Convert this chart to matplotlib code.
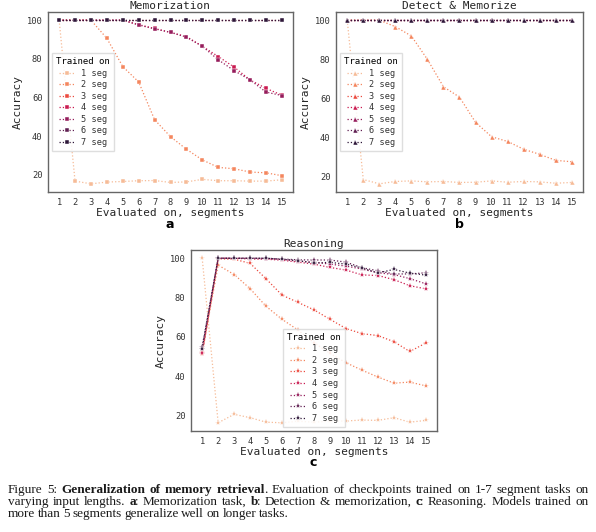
import numpy as np
import matplotlib
matplotlib.use("Agg")
import matplotlib.pyplot as plt
import seaborn as sns

# ---- data ----
segments = list(range(1, 16))
trained_on = ["1 seg", "2 seg", "3 seg", "4 seg", "5 seg", "6 seg", "7 seg"]

memo_1 = [100, 16.7, 15.3, 16.2, 16.5, 16.9, 17.0, 16.0, 16.3, 17.6, 16.9, 16.9, 16.7, 16.7, 17.4]
memo_2 = [100, 100, 100, 90.6, 76.0, 68.0, 48.5, 39.7, 33.2, 27.7, 23.8, 23.1, 21.4, 21.0, 19.5]
memo_3 = [100] * 15
memo_4 = [100, 100, 100, 100, 100, 97.7, 95.7, 93.7, 91.5, 86.5, 81.2, 75.7, 69.1, 64.7, 61.2]
memo_5 = [100, 100, 100, 100, 100, 97.5, 95.5, 93.7, 91.2, 86.5, 79.5, 73.9, 69.1, 62.8, 61.0]
memo_6 = [100] * 15
memo_7 = [100] * 15

det_1 = [100, 18.4, 16.2, 17.4, 17.7, 17.2, 17.4, 16.9, 17.0, 17.7, 17.0, 17.4, 17.2, 16.5, 16.9]
det_2 = [100, 100, 100, 96.7, 91.9, 79.9, 65.9, 60.6, 47.7, 40.3, 37.9, 33.9, 31.3, 28.2, 27.5]
det_3 = [100] * 15
det_4 = [100] * 15
det_5 = [100] * 15
det_6 = [100] * 15
det_7 = [100] * 15

reas_1 = [100, 16.2, 20.5, 18.8, 16.5, 16.2, 17.0, 16.5, 17.0, 17.1, 17.6, 17.4, 18.8, 16.5, 17.4]
reas_2 = [52.0, 96.5, 91.7, 84.5, 75.5, 68.9, 63.4, 57.0, 51.5, 46.8, 43.0, 39.5, 36.4, 36.9, 35.0]
reas_3 = [51.0, 99.7, 99.5, 97.4, 89.5, 81.2, 77.5, 73.7, 68.9, 64.2, 61.6, 60.6, 57.5, 52.5, 56.8]
reas_4 = [51.5, 100, 100, 99.6, 99.5, 99.0, 98.0, 97.0, 95.3, 94.0, 91.5, 91.2, 89.1, 86.0, 84.4]
reas_5 = [54.0, 100, 100, 100, 99.8, 99.4, 98.5, 98.0, 97.0, 96.0, 94.5, 92.6, 91.7, 89.6, 87.0]
reas_6 = [55.0, 100, 100, 100, 100, 99.6, 99.2, 99.1, 99.1, 98.0, 95.2, 93.6, 92.0, 92.0, 92.6]
reas_7 = [54.0, 100, 100, 100, 100, 99.5, 98.8, 97.5, 97.9, 97.0, 95.0, 92.5, 94.3, 92.4, 91.4]

memo = [memo_1, memo_2, memo_3, memo_4, memo_5, memo_6, memo_7]
det = [det_1, det_2, det_3, det_4, det_5, det_6, det_7]
reas = [reas_1, reas_2, reas_3, reas_4, reas_5, reas_6, reas_7]

colors = sns.color_palette("rocket_r", 7)

W, H = 596, 532
fig = plt.figure(figsize=(W / 100, H / 100), dpi=100)
fig.patch.set_facecolor("white")

MONO = "DejaVu Sans Mono"


def box(l, t, r, b):
    return [l / W, 1 - b / H, (r - l) / W, (b - t) / H]


def panel(rect, series, marker, ms, title, legend_loc, letter, letter_xy):
    ax = fig.add_axes(rect)
    for i, ys in enumerate(series):
        ax.plot(segments, ys, linestyle=":", linewidth=0.9, marker=marker,
                markersize=ms, color=colors[i], markeredgecolor="w",
                markeredgewidth=0.3, label=trained_on[i])
    ax.set_xticks(segments)
    ax.set_yticks([20, 40, 60, 80, 100])
    ax.tick_params(length=0, pad=4, labelsize=6.3, labelcolor="0.2")
    for lab in ax.get_xticklabels() + ax.get_yticklabels():
        lab.set_family(MONO)
    for s in ax.spines.values():
        s.set_color("0.4")
        s.set_linewidth(1.0)
    ax.set_title(title, family=MONO, fontsize=8, pad=2, color="0.15")
    ax.set_xlabel("Evaluated on, segments", family=MONO, fontsize=8,
                  labelpad=1, color="0.15")
    ax.set_ylabel("Accuracy", family=MONO, fontsize=8, labelpad=3, color="0.15")
    leg = ax.legend(title="Trained on", loc=legend_loc,
                    title_fontsize=6.5, prop={"family": MONO, "size": 6.2},
                    handlelength=1.9, labelspacing=0.3, borderpad=0.45,
                    handletextpad=0.7, framealpha=0.85, edgecolor="0.85",
                    fancybox=False)
    leg.get_title().set_family(MONO)
    for t in leg.get_texts():
        t.set_color("0.2")
    fig.text(letter_xy[0] / W, 1 - letter_xy[1] / H, letter, ha="center",
             va="center", fontsize=9, fontweight="bold", family="DejaVu Sans")
    return ax


panel(box(48, 12, 293, 192), memo, "s", 3.4, "Memorization", "center left",
      "a", (170, 225))
panel(box(336, 12, 583, 192), det, "^", 3.6, "Detect & Memorize", "center left",
      "b", (459, 225))
panel(box(191, 250, 437, 431), reas, "*", 4.0, "Reasoning", "lower center",
      "c", (313, 463))

# ---- caption (justified, mixed bold) ----
SERIF = "Liberation Serif"
CAP_SIZE = 9.5
renderer = fig.canvas.get_renderer()

cap_lines = [
    ([("Figure", False), ("5:", False), ("Generalization", True), ("of", True),
      ("memory", True), ("retrieval", True), (".", False), ("Evaluation", False),
      ("of", False), ("checkpoints", False), ("trained", False), ("on", False),
      ("1-7", False), ("segment", False), ("tasks", False), ("on", False)], True),
    ([("varying", False), ("input", False), ("lengths.", False), ("a", True),
      (":", False), ("Memorization", False), ("task,", False), ("b", True),
      (":", False), ("Detection", False), ("&", False), ("memorization,", False),
      ("c", True), (":", False), ("Reasoning.", False), ("Models", False),
      ("trained", False), ("on", False)], True),
    ([("more", False), ("than", False), ("5", False), ("segments", False),
      ("generalize", False), ("well", False), ("on", False), ("longer", False),
      ("tasks.", False)], False),
]
cap_y = [490, 502, 514]
x_left, x_right = 8, 589


def measure(word, bold):
    t = fig.text(0, 0, word, family=SERIF, fontsize=CAP_SIZE,
                 fontweight="bold" if bold else "normal")
    w = t.get_window_extent(renderer).width
    t.remove()
    return w


for (words, justify), yy in zip(cap_lines, cap_y):
    # glue punctuation pieces to the previous word
    groups = []
    for w, b in words:
        if w in (".", ":") and groups:
            groups[-1].append((w, b))
        else:
            groups.append([(w, b)])
    widths = []
    for g in groups:
        gw = sum(measure(w, b) for w, b in g) - 1.0 * (len(g) - 1)
        widths.append(gw)
    space = CAP_SIZE * 0.2 * 100 / 72
    if justify:
        gap = (x_right - x_left - sum(widths)) / (len(groups) - 1)
    else:
        gap = space
    x = x_left
    for g, gw in zip(groups, widths):
        xx = x
        for w, b in g:
            fig.text(xx / W, 1 - yy / H, w, family=SERIF, fontsize=CAP_SIZE,
                     fontweight="bold" if b else "normal", va="center",
                     ha="left", color="0.1")
            xx += measure(w, b) - 1.0
        x += gw + gap

fig.savefig("out.png", dpi=100, facecolor="white")
